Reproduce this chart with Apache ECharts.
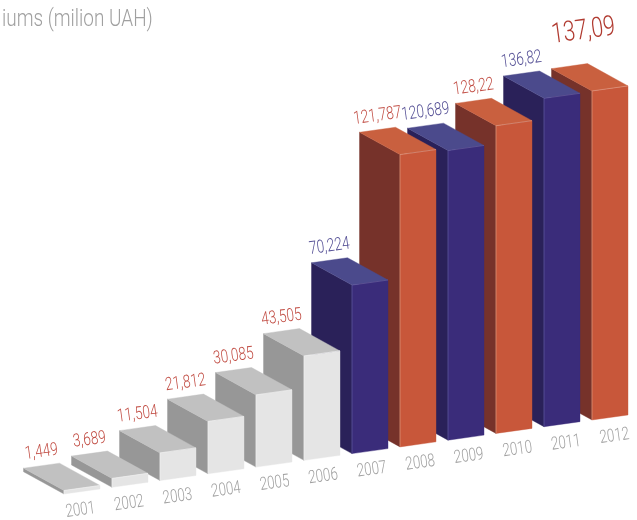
<!DOCTYPE html>
<html>
<head>
<meta charset="utf-8">
<style>html,body{margin:0;padding:0;background:#fff}#c{width:637px;height:520px}</style>
<script src="https://cdn.jsdelivr.net/npm/echarts@6/dist/echarts.min.js"></script>
</head>
<body>
<div id="c"></div>
<script>
var years = ['2001','2002','2003','2004','2005','2006','2007','2008','2009','2010','2011','2012'];
var values = [1.449,3.689,11.504,21.812,30.085,43.505,70.224,121.787,120.689,128.22,136.82,137.09];
var valueLabels = ['1,449','3,689','11,504','21,812','30,085','43,505','70,224','121,787','120,689','128,22','136,82','137,09'];
var themes = ['grey','grey','grey','grey','grey','grey','blue','orange','blue','orange','blue','orange'];
var titleText = 'iums (milion UAH)';

var palette = {
  grey:   {front:'#e5e5e5', top:'#c1c1c1', side:'#979797', edge:'#f0f0f0', label:'#c24f46'},
  blue:   {front:'#3a2c7a', top:'#4b4a8c', side:'#2a2159', edge:'#6a66a8', label:'#544f95'},
  orange: {front:'#c8573a', top:'#c9603f', side:'#76322a', edge:'#e2a48e', label:'#c24f46'}
};
var FONT = 'Roboto,"Liberation Sans",sans-serif';
var chart = echarts.init(document.getElementById('c'), null, {renderer:'canvas'});
var SHEAR = 0.1402, DX = -40.5, DY = -22.3, ANGLE = 0.135;
var n = years.length;

function renderItem(params, api) {
  var i = api.value(0), v = api.value(1);
  var base = api.coord([i, 0]);
  var top = api.coord([i, v]);
  var band = api.size([1, 0])[0];
  var w = band * 0.75;
  var x0 = base[0] - w / 2, x1 = base[0] + w / 2;
  var origin = params.coordSys.x + band * 0.125;
  function sk(x, y) { return [x, y - SHEAR * (x - origin)]; }
  var bl = sk(x0, base[1]), br = sk(x1, base[1]), tl = sk(x0, top[1]), tr = sk(x1, top[1]);
  function back(p) { return [p[0] + DX, p[1] + DY]; }
  var c = palette[themes[i]];
  var z = (n - i) * 10;
  function poly(pts, fill) {
    return {type:'polygon', z2:z, shape:{points:pts}, style:{fill:fill, stroke:fill, lineWidth:0.4}};
  }
  function edge(pts) {
    return {type:'polyline', z2:z + 1, shape:{points:pts}, style:{fill:null, stroke:c.edge, lineWidth:0.6}};
  }
  var big = i === n - 1;
  var b = back(tl);
  var children = [
    poly([back(bl), bl, tl, b], c.side),
    poly([b, tl, tr, back(tr)], c.top),
    poly([tl, bl, br, tr], c.front),
    edge([bl, tl, tr]),
    {type:'text', z2:500, x:b[0] + (big ? 32 : 18), y:b[1] + (big ? -37 : -16), rotation:ANGLE,
     scaleX:big ? 0.77 : 0.76,
     style:{text:valueLabels[i], fill:big ? '#b03a30' : c.label, fontFamily:FONT, fontWeight:300,
            fontSize:big ? 28 : 18, align:'center', verticalAlign:'middle'}},
    {type:'text', z2:500, x:base[0] - 1.5 + 0.55 * i, y:sk(base[0], base[1])[1] + 19, rotation:ANGLE,
     scaleX:0.74,
     style:{text:years[i], fill:'#a0a0a0', fontFamily:FONT, fontWeight:300, fontSize:18, align:'center', verticalAlign:'middle'}}
  ];
  return {type:'group', children:children};
}

chart.setOption({
  animation:false,
  backgroundColor:'#fff',
  graphic:[{type:'text', x:2, y:20, scaleX:0.79,
    style:{text:titleText, fill:'#a0a0a0', fontFamily:FONT, fontWeight:300, fontSize:24, align:'left', verticalAlign:'middle'}}],
  grid:{left:58, width:576, top:14, height:480},
  xAxis:{type:'category', data:years, show:false},
  yAxis:{type:'value', min:0, max:200, show:false},
  series:[{
    type:'custom',
    renderItem:renderItem,
    clip:false,
    encode:{x:0, y:1},
    data:values.map(function(v, i){ return [i, v]; })
  }]
});
</script>
</body>
</html>
